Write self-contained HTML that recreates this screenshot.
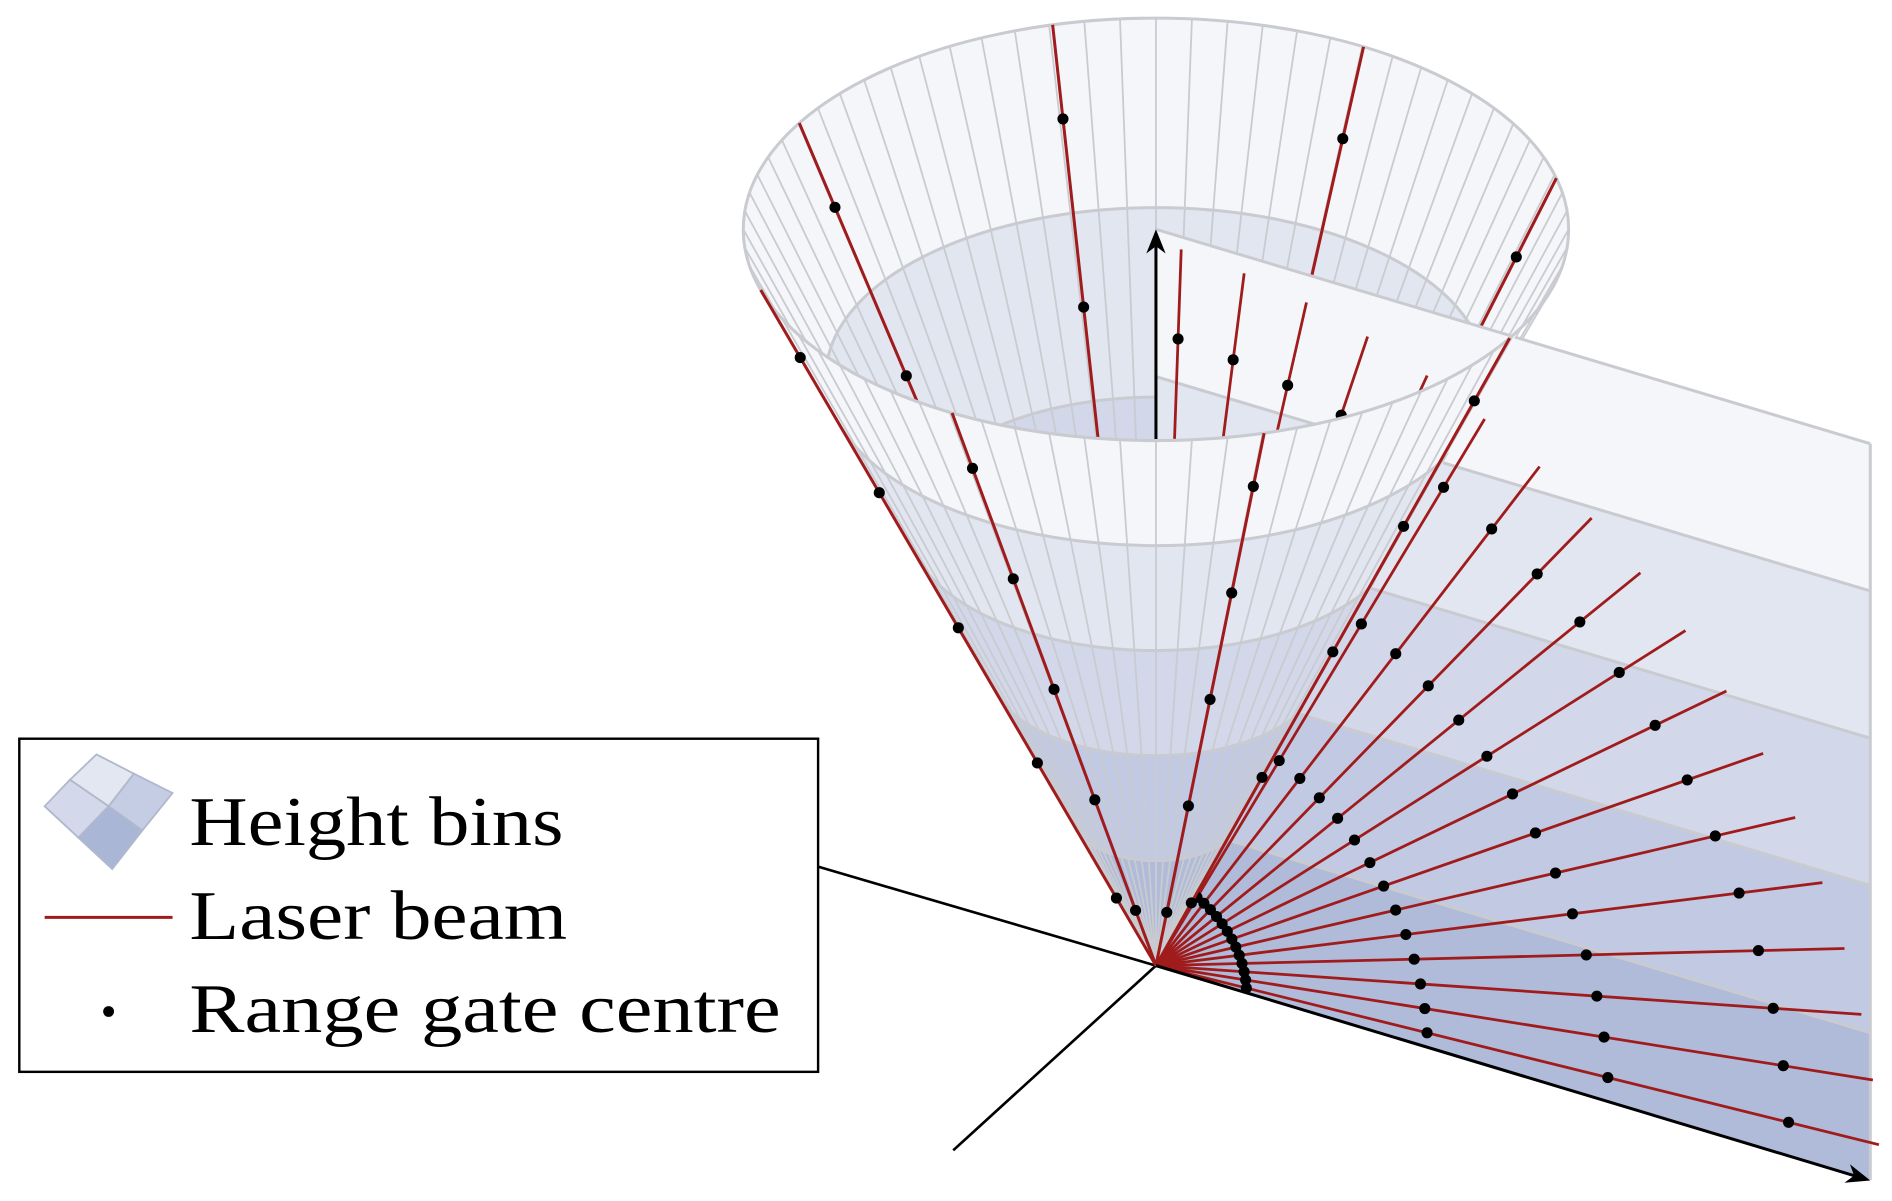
<!DOCTYPE html>
<html><head><meta charset="utf-8"><style>html,body{margin:0;padding:0;background:#fff}svg{display:block}</style></head>
<body>
<svg id="s" xmlns="http://www.w3.org/2000/svg" width="1892" height="1201" viewBox="0 0 1568 995" preserveAspectRatio="none">
<defs><clipPath id="fc"><polygon points="0,0 1415,0 958,800 0,1100"/></clipPath></defs>
<rect width="1568" height="995" fill="#fff"/>
<g id="g"></g>
<g id="leg">
<rect x="16" y="612" width="662" height="276" fill="#fff" stroke="#000" stroke-width="2"/>
<polygon points="80,625 111,641 90,668 58,646" fill="#e3e7f1" stroke="#b0b8cc" stroke-width="1.5"/>
<polygon points="58,646 90,668 65,694 37,668" fill="#d3d9ea" stroke="#b0b8cc" stroke-width="1.5"/>
<polygon points="111,641 143,657 118,688 90,668" fill="#c4cde3" stroke="#b0b8cc" stroke-width="1.5"/>
<polygon points="90,668 118,688 93,720 65,694" fill="#aab6d6" stroke="#b0b8cc" stroke-width="1.5"/>
<line x1="37" y1="760" x2="143" y2="760" stroke="#a01c1c" stroke-width="2.5"/>
<circle cx="90" cy="838" r="4.5" fill="#000"/>
<text x="157" y="700" font-family="Liberation Serif, serif" font-size="58" textLength="310" lengthAdjust="spacingAndGlyphs">Height bins</text>
<text x="157" y="778" font-family="Liberation Serif, serif" font-size="58" textLength="313" lengthAdjust="spacingAndGlyphs">Laser beam</text>
<text x="157" y="855" font-family="Liberation Serif, serif" font-size="58" textLength="490" lengthAdjust="spacingAndGlyphs">Range gate centre</text>
</g>
<script>
(function(){
var NS="http://www.w3.org/2000/svg",g=document.getElementById("g");
function el(n,a,p){var e=document.createElementNS(NS,n);for(var k in a)e.setAttribute(k,a[k]);(p||g).appendChild(e);return e;}
var AX=958,AY=800,R=Math.PI/180;
var T=[1,.8,.6,.4,.2];
var C=['#f5f6fa','#e2e6f0','#d2d8e9','#c1cae2','#afbbd9'];
var GR='#c9cbd0',RED='#a01c1c';
function E(t){return {cx:958,cy:800-610*t,rx:342*t,ry:175*t};}
function P(t,d){var e=E(t);return [e.cx+e.rx*Math.cos(d*R),e.cy+e.ry*Math.sin(d*R)];}
function line(x1,y1,x2,y2,c,w,p){return el('line',{x1:x1,y1:y1,x2:x2,y2:y2,stroke:c,'stroke-width':w},p);}
function dot(x,y,p){el('circle',{cx:x,cy:y,r:4.6,fill:'#000'},p);}
function beam(d,p){var q=P(1,d);line(q[0],q[1],AX,AY,RED,2.5,p);[.9,.7,.5,.3,.1].forEach(function(t){dot(AX+(q[0]-AX)*t,AY+(q[1]-AY)*t,p);});}
function arrow(x1,y1,x2,y2){var dx=x2-x1,dy=y2-y1,L=Math.hypot(dx,dy),ux=dx/L,uy=dy/L,px=-uy,py=ux;
 line(x1,y1,x2-ux*6,y2-uy*6,'#000',2.5);
 var b=[x2-ux*20,y2-uy*20],n=[x2-ux*14,y2-uy*14];
 el('path',{d:'M'+x2+','+y2+' L'+(b[0]+px*8)+','+(b[1]+py*8)+' Q'+n[0]+','+n[1]+' '+n[0]+','+n[1]+' Q'+n[0]+','+n[1]+' '+(b[0]-px*8)+','+(b[1]-py*8)+' Z',fill:'#000'});}
// axes
line(AX,AY,678,718,'#000',2.2);
line(AX,AY,790,953,'#000',2.2);
// back wall fills
T.forEach(function(t,i){var e=E(t);el('ellipse',{cx:e.cx,cy:e.cy,rx:e.rx,ry:e.ry,fill:C[i]});});
// back generators
for(var k=0;k<72;k++){var d=k*5;if(Math.sin(d*R)<0.29){var q=P(1,d);line(q[0],q[1],AX,AY,GR,1.5);}}
// ring strokes
T.forEach(function(t){var e=E(t);el('ellipse',{cx:e.cx,cy:e.cy,rx:e.rx,ry:e.ry,fill:'none',stroke:GR,'stroke-width':2.5});});
// back beams
[210.2,255.5,300.2,346].forEach(function(d){beam(d);});
// plane bands
var TT=[1,.8,.6,.4,.2,0];
for(var i=0;i<5;i++){var yt=800-610*TT[i],yb=800-610*TT[i+1];
 el('polygon',{points:'958,'+yt+' 1550,'+(yt+177.6)+' 1550,'+(yb+177.6)+' 958,'+yb,fill:C[i]});}
for(var i=0;i<5;i++){var yt=800-610*TT[i];line(958,yt,1550,yt+177.6,GR,2.5);}
line(1550,367.6,1550,977.6,GR,2.5);
// vertical arrow
arrow(958,365,958,190);
// fan beams
for(var e=3;e<=88;e+=5){var c=Math.cos(e*R),s=Math.sin(e*R);
 function sp(r){var a=r*c,b=r*s;return [AX+a,AY+0.3*a-b];}
 var q=sp(600);line(AX,AY,q[0],q[1],RED,2.3);
 [75,225,375,525].forEach(function(r){var p=sp(r);dot(p[0],p[1]);});}
// front wall
var fg=el('g',{'clip-path':'url(#fc)'});
T.forEach(function(t,i){var e=E(t),a=P(t,163.3),b=P(t,16.7);
 el('path',{d:'M'+a[0]+','+a[1]+' A'+e.rx+','+e.ry+' 0 0 0 '+b[0]+','+b[1]+' L'+AX+','+AY+' Z',fill:C[i]},fg);});
for(var k=0;k<72;k++){var d=k*5;if(Math.sin(d*R)>=0.29){var q=P(1,d);line(q[0],q[1],AX,AY,GR,1.5,fg);}}
T.forEach(function(t){var e=E(t),a=P(t,163.3),b=P(t,16.7);
 el('path',{d:'M'+a[0]+','+a[1]+' A'+e.rx+','+e.ry+' 0 0 0 '+b[0]+','+b[1],fill:'none',stroke:GR,'stroke-width':2.5},fg);});
var lt=P(1,163.3),rt=P(1,16.7);
line(lt[0],lt[1],AX,AY,GR,2,fg);
[74.8,119.6,163.3].forEach(function(d){beam(d,fg);});
beam(31);
// bottom arrow
arrow(AX,AY,1550,978);
})();
</script>
</svg>
</body></html>
